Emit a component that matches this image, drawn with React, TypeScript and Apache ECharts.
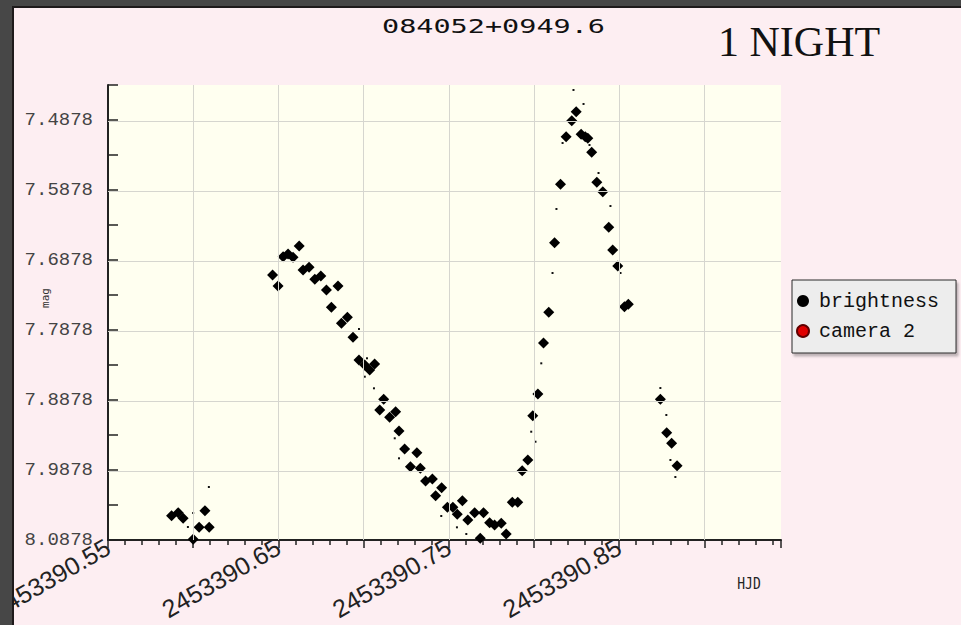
import React, { useEffect, useRef } from "react";
import * as echarts from "echarts";

// Light curve of 084052+0949.6 over one night (HJD vs magnitude)
const brightHjd = [
  2453390.5873, 2453390.5912, 2453390.5941, 2453390.6069, 2453390.6035, 2453390.6094, 2453390.6,
  2453390.6466, 2453390.6498, 2453390.6528, 2453390.6557, 2453390.6586, 2453390.6622, 2453390.6645,
  2453390.668, 2453390.6714, 2453390.6749, 2453390.6782, 2453390.685, 2453390.6811, 2453390.687,
  2453390.6905, 2453390.6938, 2453390.6973, 2453390.7007, 2453390.7036, 2453390.7065,
  2453390.7095, 2453390.7118, 2453390.7153, 2453390.7188, 2453390.7208, 2453390.7241, 2453390.7313,
  2453390.7275, 2453390.7333, 2453390.7364, 2453390.7404, 2453390.7423, 2453390.7458, 2453390.7492,
  2453390.7524, 2453390.755, 2453390.758, 2453390.7612, 2453390.7652, 2453390.7704, 2453390.7685,
  2453390.774, 2453390.7769, 2453390.7808, 2453390.7837, 2453390.7873, 2453390.7905, 2453390.7931,
  2453390.7964, 2453390.7993, 2453390.8023,
  2453390.8056, 2453390.8087, 2453390.8121, 2453390.8156, 2453390.8189, 2453390.8222, 2453390.8248,
  2453390.8277, 2453390.8301, 2453390.8316, 2453390.8339, 2453390.8369, 2453390.8404, 2453390.8439,
  2453390.8462, 2453390.8492, 2453390.8531, 2453390.8554,
  2453390.8742, 2453390.8779, 2453390.8808, 2453390.884,
];
const brightMag = [
  8.0531, 8.0488, 8.0568, 8.0459, 8.0697, 8.0697, 8.0868,
  7.7092, 7.7249, 7.6831, 7.6792, 7.6839, 7.6678, 7.7021,
  7.6982, 7.7154, 7.7107, 7.7307, 7.7249, 7.7554, 7.7782,
  7.7697, 7.7982, 7.8307, 7.8378, 7.8449, 7.8364,
  7.9021, 7.8868, 7.9125, 7.9045, 7.9321, 7.9578, 7.9631,
  7.9831, 7.9854, 8.0035, 8.0007, 8.0245, 8.0131, 8.0411,
  8.0411, 8.0511, 8.0317, 8.0592, 8.0488, 8.0488, 8.0854,
  8.0631, 8.0664, 8.0639, 8.0792, 8.0339, 8.0339, 7.9888,
  7.9735, 7.9102, 7.8792,
  7.8064, 7.7625, 7.6631, 7.5797, 7.5117, 7.4888, 7.4759,
  7.5082, 7.5117, 7.5139, 7.5339, 7.5768, 7.5902, 7.6411,
  7.6735, 7.6964, 7.7545, 7.7511,
  7.8868, 7.9345, 7.9497, 7.9817,
];

// individual faint readings around the averaged points
const detailHjd = [
  2453390.6092, 2453390.6, 2453390.5969, 2453390.8232, 2453390.8291, 2453390.8132, 2453390.8109,
  2453390.8379, 2453390.8449, 2453390.8508, 2453390.8168, 2453390.8326, 2453390.8742, 2453390.8777,
  2453390.8801, 2453390.883, 2453390.7061, 2453390.7208, 2453390.7183, 2453390.7456, 2453390.7548,
  2453390.7603, 2453390.7984, 2453390.8009, 2453390.8043, 2453390.6973, 2453390.702, 2453390.7007,
];
const detailMag = [
  8.0121, 8.0492, 8.0692, 7.4449, 7.4649, 7.6149, 7.7064,
  7.5635, 7.6107, 7.7064, 7.5207, 7.5235, 7.8707, 7.9092,
  7.9735, 7.9978, 7.8711, 7.9711, 7.9425, 8.0535, 8.0697,
  8.0792, 7.9331, 7.9474, 7.8354, 7.7864, 7.8282, 7.8545,
];

const camera2Hjd: number[] = [];
const camera2Mag: number[] = [];

const xGridValues = [2453390.6, 2453390.65, 2453390.7, 2453390.75, 2453390.8, 2453390.85, 2453390.9];
const yTickLabels = [7.4878, 7.5878, 7.6878, 7.7878, 7.8878, 7.9878, 8.0878];

const X_MIN = 2453390.55;
const X_MAX = 2453390.945;
const Y_MIN = 7.4378;
const Y_MAX = 8.0878;

const zip = (xs: number[], ys: number[]) => xs.map((x, i) => [x, ys[i]]);

const frame = (style: React.CSSProperties): React.CSSProperties => ({
  position: "absolute",
  zIndex: 10,
  ...style,
});

export default function App() {
  const ref = useRef<HTMLDivElement>(null);

  useEffect(() => {
    if (!ref.current) return;
    const chart = echarts.init(ref.current, undefined, { renderer: "svg" });

    const gridLines = [
      ...xGridValues.map((v) => ({ xAxis: v })),
      ...yTickLabels.slice(0, -1).map((v) => ({ yAxis: v })),
    ];

    chart.setOption({
      animation: false,
      backgroundColor: "#fdeef2",
      grid: {
        left: 108,
        right: 180,
        top: 85,
        bottom: 85,
        containLabel: false,
        outerBoundsMode: "none",
        show: true,
        backgroundColor: "#fffff0",
        borderWidth: 0,
      },
      legend: {
        orient: "vertical",
        left: 792,
        top: 280,
        padding: [11, 17, 12, 4],
        itemWidth: 22,
        itemHeight: 12,
        itemGap: 10,
        backgroundColor: "#ededed",
        borderColor: "#2a2a2a",
        borderWidth: 1,
        shadowColor: "rgba(0,0,0,0.25)",
        shadowBlur: 2,
        shadowOffsetX: 2,
        shadowOffsetY: 3,
        textStyle: {
          fontFamily: "Liberation Mono",
          fontSize: 20,
          lineHeight: 20,
          color: "#111",
        },
        data: [
          { name: "brightness", icon: "circle" },
          { name: "camera 2", icon: "circle" },
        ],
      },
      xAxis: {
        type: "value",
        min: X_MIN,
        max: X_MAX,
        interval: 0.05,
        axisLine: { show: true, lineStyle: { color: "#222", width: 2 } },
        axisTick: { show: true, inside: false, length: 8, lineStyle: { color: "#222", width: 1.5 } },
        minorTick: { show: true, splitNumber: 5, length: 5, lineStyle: { color: "#222", width: 1.5 } },
        splitLine: { show: false },
        axisLabel: {
          rotate: 30,
          margin: 5,
          fontFamily: "Liberation Sans",
          fontSize: 25,
          color: "#222",
          formatter: (v: number) => {
            const k = (v - X_MIN) / 0.1;
            return Math.abs(k - Math.round(k)) < 1e-3 ? v.toFixed(2) : "";
          },
        },
      },
      yAxis: {
        type: "value",
        inverse: true,
        min: Y_MIN,
        max: Y_MAX,
        interval: 0.05,
        axisLine: { show: true, lineStyle: { color: "#222", width: 2 } },
        axisTick: { show: true, inside: true, length: 10, lineStyle: { color: "#222", width: 1.5 } },
        splitLine: { show: false },
        axisLabel: {
          margin: 15,
          fontFamily: "Liberation Mono",
          fontSize: 19,
          color: "#444",
          formatter: (v: number) => {
            const k = (v - yTickLabels[0]) / 0.1;
            return k > -0.01 && Math.abs(k - Math.round(k)) < 1e-3 ? v.toFixed(4) : "";
          },
        },
      },
      series: [
        {
          name: "camera 2",
          type: "scatter",
          z: 1,
          symbol: "circle",
          symbolSize: 10,
          itemStyle: { color: "#e00000", borderColor: "#600000", borderWidth: 1, opacity: 1 },
          data: zip(camera2Hjd, camera2Mag),
          markLine: {
            silent: true,
            symbol: ["none", "none"],
            label: { show: false },
            lineStyle: { color: "#d6d6cf", width: 1, type: "solid" },
            emphasis: { disabled: true },
            data: gridLines,
          },
        },
        {
          name: "readings",
          type: "scatter",
          z: 2,
          symbol: "rect",
          symbolSize: 2,
          itemStyle: { color: "#111", opacity: 1 },
          data: zip(detailHjd, detailMag),
        },
        {
          name: "brightness",
          type: "scatter",
          z: 3,
          symbol: "diamond",
          symbolSize: [11, 11],
          itemStyle: { color: "#000", opacity: 1 },
          data: zip(brightHjd, brightMag),
        },
      ],
      graphic: [
        {
          type: "text",
          x: 493.5,
          y: 27,
          scaleX: 1.5,
          style: {
            text: "084052+0949.6",
            fontFamily: "DejaVu Sans Mono",
            fontSize: 19,
            fill: "#111",
            align: "center",
            verticalAlign: "middle",
          },
        },
        {
          type: "text",
          x: 718,
          y: 42,
          style: {
            text: "1 NIGHT",
            fontFamily: "Liberation Serif",
            fontSize: 42,
            fill: "#111",
            align: "left",
            verticalAlign: "middle",
          },
        },
        {
          type: "text",
          x: 45,
          y: 298,
          rotation: Math.PI / 2,
          style: {
            text: "mag",
            fontFamily: "DejaVu Sans Mono",
            fontSize: 11,
            fill: "#333",
            align: "center",
            verticalAlign: "middle",
          },
        },
        {
          type: "text",
          x: 749,
          y: 583,
          scaleY: 1.25,
          style: {
            text: "HJD",
            fontFamily: "DejaVu Sans Mono",
            fontSize: 13,
            fill: "#222",
            align: "center",
            verticalAlign: "middle",
          },
        },
      ],
    });

    return () => chart.dispose();
  }, []);

  return (
    <>
      <div
        ref={ref}
        style={{ position: "absolute", left: 0, top: 0, width: 961, height: 625 }}
      />
      {/* dark window frame along the top and left edges */}
      <div style={frame({ left: 0, top: 0, width: 961, height: 6, background: "#474747" })} />
      <div style={frame({ left: 0, top: 0, width: 12, height: 625, background: "#474747" })} />
      <div style={frame({ left: 12, top: 6, width: 949, height: 2, background: "#1e1a1b" })} />
      <div style={frame({ left: 12, top: 6, width: 2, height: 619, background: "#1e1a1b" })} />
    </>
  );
}
